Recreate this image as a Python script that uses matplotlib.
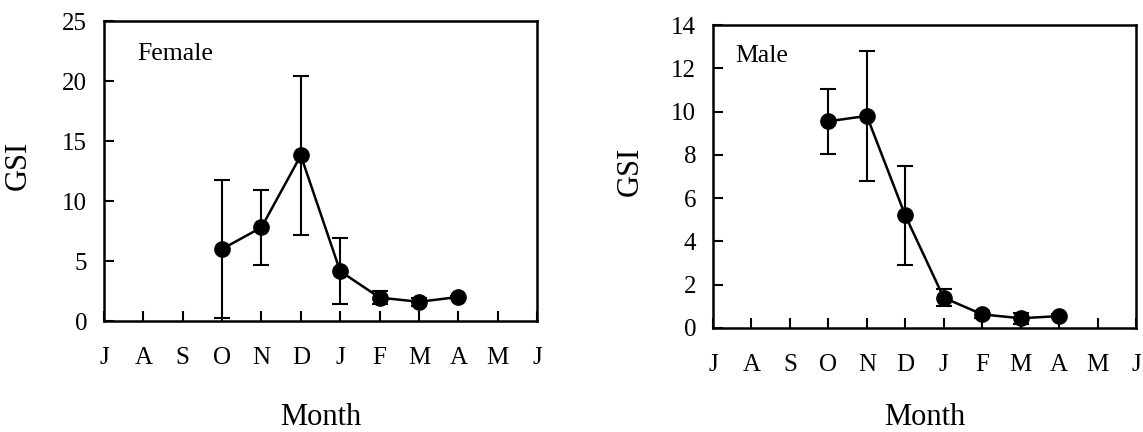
import numpy as np
import matplotlib.pyplot as plt

months = ['J', 'A', 'S', 'O', 'N', 'D', 'J', 'F', 'M', 'A', 'M', 'J']
sample_idx = [3, 4, 5, 6, 7, 8, 9]  # O..A

female_gsi = [6.0, 7.8, 13.8, 4.15, 1.95, 1.6, 2.0]
female_err = [5.75, 3.1, 6.6, 2.75, 0.55, 0.35, 0.1]

male_gsi = [9.55, 9.8, 5.2, 1.4, 0.63, 0.45, 0.55]
male_err = [1.5, 3.0, 2.3, 0.4, 0.15, 0.25, 0.1]

plt.rcParams['font.family'] = ['Liberation Serif', 'DejaVu Serif']

fig = plt.figure(figsize=(11.43, 4.32), dpi=100)
W, H = 1143, 432


def panel(box, vals, errs, ymax, ystep, name, name_xy, ylab_xy, mlab_y):
    l, t, r, b = box
    ax = fig.add_axes([l / W, 1 - b / H, (r - l) / W, (b - t) / H])
    ax.errorbar(sample_idx, vals, yerr=errs, color='black', lw=1.8,
                marker='o', ms=11, capsize=6, elinewidth=1.5, capthick=1.5)
    ax.set_xlim(0, 11)
    ax.set_ylim(0, ymax)
    ax.set_xticks(range(12))
    ax.set_xticklabels(months, fontsize=18)
    ax.set_yticks(np.arange(0, ymax + 0.1, ystep))
    ax.tick_params(axis='x', direction='in', length=7, width=1.5, pad=19)
    ax.tick_params(axis='y', direction='in', length=7, width=1.5, pad=12,
                   labelsize=18)
    for s in ax.spines.values():
        s.set_linewidth(1.8)
    ax.text(name_xy[0], name_xy[1], name, transform=ax.transAxes,
            fontsize=18.5, va='baseline')
    ax.set_ylabel('GSI', fontsize=22)
    ax.yaxis.set_label_coords((ylab_xy[0] - l) / (r - l),
                              (b - ylab_xy[1]) / (b - t))
    ax.set_xlabel('Month', fontsize=22)
    ax.xaxis.set_label_coords(0.5, (b - mlab_y) / (b - t))
    return ax


panel((104, 21, 537, 321), female_gsi, female_err, 25, 5, 'Female',
      (0.076, 0.87), (33, 165), 403)
panel((713, 25, 1136, 328), male_gsi, male_err, 14, 2, 'Male',
      (0.052, 0.878), (645, 171), 403)

fig.savefig('out.png', dpi=100)
